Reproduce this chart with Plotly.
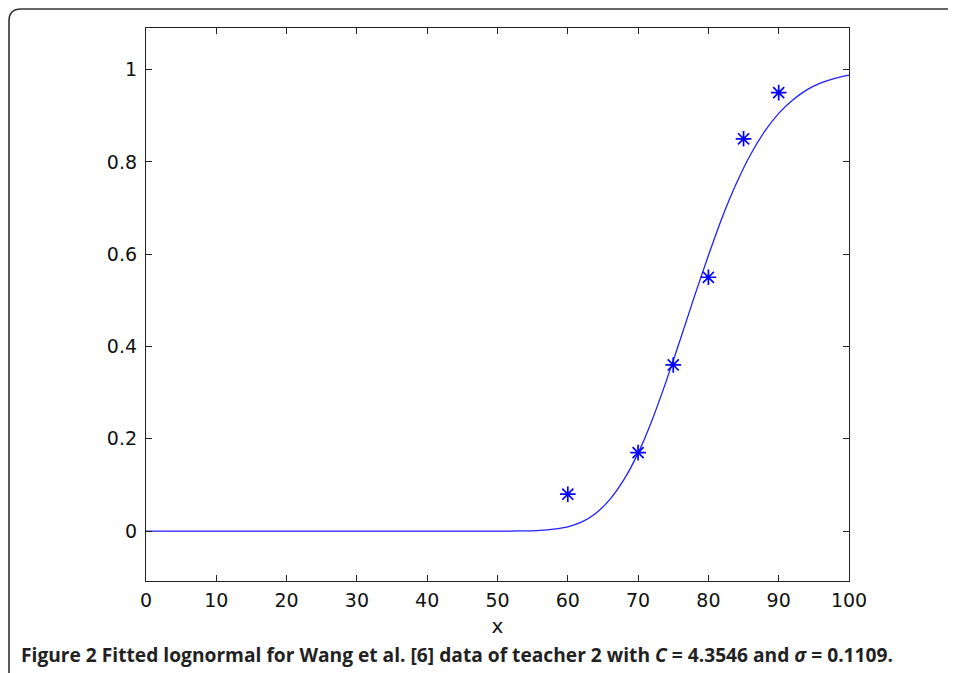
import plotly.graph_objects as go

# Observed data points (stars)
obs_x = [60, 70, 75, 80, 85, 90]
obs_y = [0.08, 0.17, 0.36, 0.55, 0.85, 0.95]

# Fitted curve
curve_x = [0, 10, 20, 30, 40, 48, 50, 52, 54, 56, 58, 60, 62, 64, 66, 68, 70, 72, 74, 76,
           78, 80, 82, 84, 86, 88, 90, 92, 94, 96, 98, 100]
curve_y = [0.0, 0.0, 0.0, 0.0, 0.0, 0.0, 0.0, 0.0002, 0.0007, 0.0018, 0.0045, 0.0094, 0.020,
           0.039, 0.069, 0.112, 0.169, 0.241, 0.325, 0.415, 0.508, 0.597, 0.681, 0.754,
           0.816, 0.866, 0.905, 0.934, 0.956, 0.971, 0.981, 0.988]

x_ticks = [0, 10, 20, 30, 40, 50, 60, 70, 80, 90, 100]
y_ticks = [0, 0.2, 0.4, 0.6, 0.8, 1]
y_tick_labels = ["0", "0.2", "0.4", "0.6", "0.8", "1"]

caption = ("<b>Figure 2 Fitted lognormal for Wang et al. [6] data of teacher 2 with "
           "<i>C</i> = 4.3546 and <i>σ</i> = 0.1109.</b>")

# page is offset by the 8px body margin
W, H = 948, 665
L, R, T, B = 138, 841, 20, 573
pw, ph = R - L, B - T

def px(x):
    return (x - L) / pw

def py(y):
    return (B - y) / ph

tick_font = dict(family="DejaVu Sans, Liberation Sans", size=19, color="#111")

fig = go.Figure()
fig.add_trace(go.Scatter(x=curve_x, y=curve_y, mode="lines",
                         line=dict(color="#1f1fff", width=1.3, shape="spline", smoothing=0.6),
                         hoverinfo="skip", showlegend=False))
fig.add_trace(go.Scatter(x=obs_x, y=obs_y, mode="markers",
                         marker=dict(symbol="asterisk-open", size=13, color="#0000ff",
                                     line=dict(color="#0000ff", width=1.7)),
                         showlegend=False))

axis_common = dict(showgrid=False, zeroline=False, showline=True, linecolor="#222",
                   linewidth=1.3, mirror="ticks", ticks="inside", ticklen=6, tickwidth=1.3,
                   tickcolor="#222", tickfont=tick_font)

fig.update_xaxes(range=[0, 100], tickvals=x_ticks, ticklabelstandoff=2, **axis_common,
                 title=dict(text="x", font=dict(family="DejaVu Sans, Liberation Sans", size=20,
                                                color="#111"), standoff=9))
fig.update_yaxes(range=[-0.108, 1.09], tickvals=y_ticks, ticktext=y_tick_labels,
                 ticklabelstandoff=4, **axis_common)

r = 12
x0, xr = px(1), px(965)
yt, yb = py(1), py(690)
path = (f"M {x0},{yb} L {x0},{py(1 + r)} Q {x0},{yt} {px(1 + r)},{yt} L {xr},{yt}")
fig.add_shape(type="path", path=path, xref="paper", yref="paper",
              line=dict(color="#333", width=1.6), layer="above")

fig.add_annotation(text=caption, xref="paper", yref="paper", x=px(11), y=py(646),
                   xanchor="left", yanchor="middle", showarrow=False,
                   font=dict(family="Open Sans, Noto Sans", size=19.2, color="#222"))

fig.update_layout(width=W, height=H, margin=dict(l=L, r=W - R, t=T, b=H - B),
                  paper_bgcolor="white", plot_bgcolor="white")

fig.write_html("out.html")
